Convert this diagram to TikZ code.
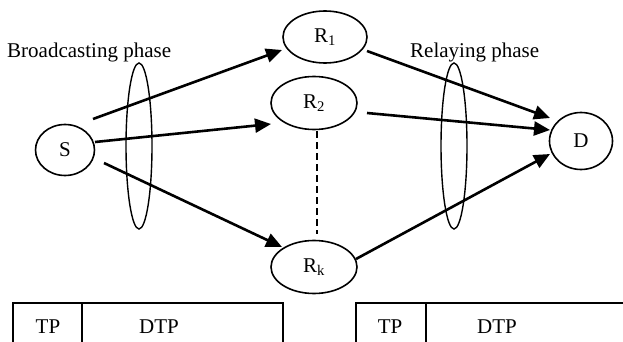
\documentclass[tikz,border=0pt]{standalone}
\usepackage{fontspec}
\setmainfont{Liberation Serif}
\usetikzlibrary{shapes.geometric,arrows.meta}
\begin{document}
\begin{tikzpicture}[x=1pt,y=-1pt,
  every node/.style={font=\fontsize{21}{25}\selectfont},
  el/.style={draw, ellipse, line width=1.6pt, inner sep=0pt},
  arr/.style={line width=2.6pt, -{Triangle[length=16pt,width=14pt]}},
  ring/.style={draw, ellipse, line width=1.4pt, inner sep=0pt, minimum width=26pt, minimum height=166pt},
  cell/.style={draw, line width=1.4pt},
  lbl/.style={anchor=base west, inner sep=0pt}]
\useasboundingbox (0,0) rectangle (623,342);
\clip (0,0) rectangle (623,342);
% nodes
\node[el, minimum width=59pt, minimum height=51pt] (S) at (65,150) {S};
\node[el, minimum width=84pt, minimum height=52pt] (R1) at (325,37) {R\textsubscript{1}};
\node[el, minimum width=86pt, minimum height=53pt] (R2) at (314,103) {R\textsubscript{2}};
\node[el, minimum width=86pt, minimum height=53pt] (Rk) at (314,267) {R\textsubscript{k}};
\node[el, minimum width=63pt, minimum height=57pt] (D) at (581,141) {D};
% phase rings
\node[ring] (bph) at (139,146) {};
\node[ring] (rph) at (454,146) {};
\node[lbl] (bl) at (7,58) {Broadcasting phase};
\node[lbl] (rl) at (410,58) {Relaying phase};
% arrows
\draw[arr] ([shift={(28,-31)}]S.center) -- ([shift={(-43,13)}]R1.center);
\draw[arr] ([shift={(30,-8)}]S.center) -- ([shift={(-43,21)}]R2.center);
\draw[arr] ([shift={(39,13)}]S.center) -- ([shift={(-32,-20)}]Rk.center);
\draw[arr] ([shift={(42,14)}]R1.center) -- ([shift={(-31,-23)}]D.center);
\draw[arr] ([shift={(53,10)}]R2.center) -- ([shift={(-31,-11)}]D.center);
\draw[arr] ([shift={(42,-8)}]Rk.center) -- ([shift={(-31,13)}]D.center);
\draw[line width=1.6pt, dash pattern=on 7pt off 4pt] ([shift={(3,1)}]R2.south) -- ([shift={(3,-6)}]Rk.north);
% frame boxes
\draw[cell] (13,303) rectangle (283,370);
\draw[cell] (82,303) -- (82,370);
\draw[cell] (356,303) rectangle (640,370);
\draw[cell] (426,303) -- (426,370);
\node (tp1) at (48,327) {TP};
\node (dtp1) at (159,327) {DTP};
\node (tp2) at (390,327) {TP};
\node (dtp2) at (497,327) {DTP};
\end{tikzpicture}
\end{document}
